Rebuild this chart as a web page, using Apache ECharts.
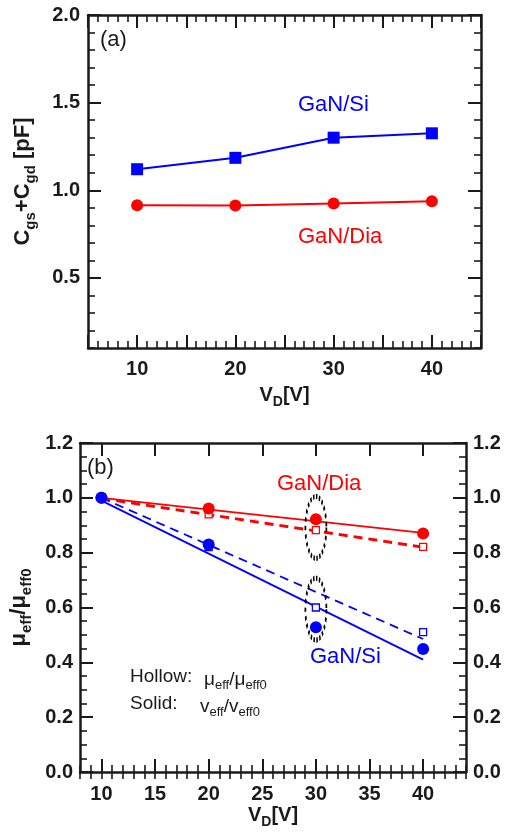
<!DOCTYPE html>
<html><head><meta charset="utf-8">
<script src="https://cdn.jsdelivr.net/npm/echarts@6/dist/echarts.min.js"></script>
<style>html,body{margin:0;padding:0;background:#fff}#c{width:510px;height:833px}</style>
</head><body><div id="c"></div>
<script>
// ---- Panel (a) data ----
const vdA = [10, 20, 30, 40];
const capSi = [1.12, 1.185, 1.30, 1.325];
const capDia = [0.915, 0.913, 0.924, 0.937];
const xLabelsA = [10, 20, 30, 40];
const yLabelsA = [0.5, 1.0, 1.5, 2.0];

// ---- Panel (b) data ----
const vdB = [10, 20, 30, 40];
const diaSolid = [1.0, 0.961, 0.922, 0.870];
const diaHollow = [1.0, 0.94, 0.882, 0.821];
const siSolid = [1.0, 0.83, 0.528, 0.449];
const siHollow = [1.0, 0.82, 0.60, 0.51];
const fitX = [10, 40];
const diaSolidFit = [1.0, 0.872];
const diaHollowFit = [0.998, 0.82];
const siSolidFit = [0.99, 0.41];
const siHollowFit = [1.0, 0.485];
const ellipseX = [30, 30];
const ellipseY = [0.892, 0.594];
const xLabelsB = [10, 15, 20, 25, 30, 35, 40];

const FONT = 'Liberation Sans, Arial, sans-serif';
const BLUE = '#0000ff', RED = '#ff0000', INK = '#1a1a1a';
const pairs = (xs, ys) => xs.map((x, i) => [x, ys[i]]);

const tickLabel = { fontFamily: FONT, fontSize: 20, fontWeight: 'bold', color: INK };
const rich = {
  b: { fontFamily: FONT, fontSize: 20, fontWeight: 'bold', color: INK, verticalAlign: 'top', lineHeight: 22 },
  s: { fontFamily: FONT, fontSize: 14, fontWeight: 'bold', color: INK, verticalAlign: 'top', lineHeight: 14, padding: [10, 0, 0, 0] }
};
const richY = {
  b: { fontFamily: FONT, fontSize: 22, fontWeight: 'bold', color: INK, verticalAlign: 'top', lineHeight: 24 },
  s: { fontFamily: FONT, fontSize: 15, fontWeight: 'bold', color: INK, verticalAlign: 'top', lineHeight: 15, padding: [11, 0, 0, 0] }
};
const boxLine = { show: true, onZero: false, lineStyle: { color: INK, width: 2.5 } };
const noLine = { show: false };

function majorAxis(o) {
  return Object.assign({
    type: 'value', splitLine: { show: false },
    axisLine: boxLine,
    axisTick: { show: true, inside: true, length: 13, lineStyle: { color: INK, width: 2 } },
    axisLabel: { show: false },
    minorTick: { show: false }
  }, o);
}
function minorAxis(o) {
  return Object.assign({
    type: 'value', splitLine: { show: false },
    axisLine: noLine,
    axisTick: { show: true, inside: true, length: 7, lineStyle: { color: INK, width: 1.6 } },
    axisLabel: { show: false },
    minorTick: { show: false }
  }, o);
}

const xAxes = [
  // grid 0 (a)
  majorAxis({ gridIndex: 0, position: 'bottom', min: 5, max: 45, interval: 5,
    minorTick: { show: true, splitNumber: 5, length: 7, lineStyle: { color: INK, width: 1.6 } },
    axisLabel: Object.assign({ show: true, margin: 11, customValues: xLabelsA,
      formatter: v => xLabelsA.includes(v) ? String(v) : '' }, tickLabel),
    name: '{b|V}{s|D}{b|[V]}', nameLocation: 'middle', nameGap: 37, nameTextStyle: { rich } }),
  majorAxis({ gridIndex: 0, position: 'top', min: 5, max: 45, interval: 5,
    minorTick: { show: true, splitNumber: 5, length: 7, lineStyle: { color: INK, width: 1.6 } } }),
  // grid 1 (b)
  majorAxis({ gridIndex: 1, position: 'bottom', min: 8, max: 44, interval: 1,
    axisTick: { show: true, inside: true, length: 13, customValues: xLabelsB, lineStyle: { color: INK, width: 2 } },
    axisLabel: Object.assign({ show: true, margin: 12, customValues: xLabelsB,
      formatter: v => xLabelsB.includes(v) ? String(v) : '' }, tickLabel),
    name: '{b|V}{s|D}{b|[V]}', nameLocation: 'middle', nameGap: 33, nameTextStyle: { rich } }),
  minorAxis({ gridIndex: 1, position: 'bottom', min: 8, max: 44, interval: 1 }),
  majorAxis({ gridIndex: 1, position: 'top', min: 8, max: 44, interval: 1,
    axisTick: { show: true, inside: true, length: 13, customValues: xLabelsB, lineStyle: { color: INK, width: 2 } } }),
  minorAxis({ gridIndex: 1, position: 'top', min: 8, max: 44, interval: 1 })
];

const yAxes = [
  // grid 0 (a)
  majorAxis({ gridIndex: 0, position: 'left', min: 0.1, max: 2.0, interval: 0.1,
    axisTick: { show: true, inside: true, length: 13, customValues: yLabelsA, lineStyle: { color: INK, width: 2 } },
    axisLabel: Object.assign({ show: true, margin: 8, customValues: yLabelsA,
      formatter: v => yLabelsA.some(t => Math.abs(t - v) < 1e-6) ? v.toFixed(1) : '' }, tickLabel),
    name: '{b|C}{s|gs}{b|+C}{s|gd}{b| [pF]}', nameLocation: 'middle', nameRotate: 90, nameGap: 52,
    nameTextStyle: { rich: richY } }),
  minorAxis({ gridIndex: 0, position: 'left', min: 0.1, max: 2.0, interval: 0.1 }),
  majorAxis({ gridIndex: 0, position: 'right', min: 0.1, max: 2.0, interval: 0.1,
    axisTick: { show: true, inside: true, length: 13, customValues: yLabelsA, lineStyle: { color: INK, width: 2 } } }),
  minorAxis({ gridIndex: 0, position: 'right', min: 0.1, max: 2.0, interval: 0.1 }),
  // grid 1 (b)
  majorAxis({ gridIndex: 1, position: 'left', min: 0, max: 1.2, interval: 0.2,
    minorTick: { show: true, splitNumber: 4, length: 7, lineStyle: { color: INK, width: 1.6 } },
    axisLabel: Object.assign({ show: true, margin: 7, formatter: v => v.toFixed(1) }, tickLabel),
    name: '{b|μ}{s|eff}{b|/μ}{s|eff0}', nameLocation: 'middle', nameRotate: 90, nameGap: 41,
    nameTextStyle: { rich: richY } }),
  majorAxis({ gridIndex: 1, position: 'right', min: 0, max: 1.2, interval: 0.2,
    minorTick: { show: true, splitNumber: 4, length: 7, lineStyle: { color: INK, width: 1.6 } },
    axisLabel: Object.assign({ show: true, margin: 7, formatter: v => v.toFixed(1) }, tickLabel) })
];

const B = { xAxisIndex: 2, yAxisIndex: 4 };
const fitLine = (ys, color, width, type) => Object.assign({
  type: 'line', data: pairs(fitX, ys), showSymbol: false, symbol: 'none',
  lineStyle: { color, width, type, opacity: 1 }, silent: true, z: 2
}, B);

const series = [
  { type: 'line', xAxisIndex: 0, yAxisIndex: 0, data: pairs(vdA, capSi), symbol: 'rect', symbolSize: 12,
    itemStyle: { color: BLUE, opacity: 1 }, lineStyle: { color: BLUE, width: 2 } },
  { type: 'line', xAxisIndex: 0, yAxisIndex: 0, data: pairs(vdA, capDia), symbol: 'circle', symbolSize: 12,
    itemStyle: { color: RED, opacity: 1 }, lineStyle: { color: RED, width: 2 } },
  fitLine(diaSolidFit, RED, 1.8, 'solid'),
  fitLine(diaHollowFit, RED, 3, [9, 6]),
  fitLine(siSolidFit, BLUE, 1.8, 'solid'),
  fitLine(siHollowFit, BLUE, 1.8, [9, 6]),
  Object.assign({ type: 'scatter', data: pairs(vdB, diaHollow), symbol: 'rect', symbolSize: 7,
    itemStyle: { color: '#fff', borderColor: RED, borderWidth: 1.3, opacity: 1 }, z: 3 }, B),
  Object.assign({ type: 'scatter', data: pairs(vdB, siHollow), symbol: 'rect', symbolSize: 7,
    itemStyle: { color: '#fff', borderColor: BLUE, borderWidth: 1.3, opacity: 1 }, z: 3 }, B),
  Object.assign({ type: 'scatter', data: pairs(vdB, diaSolid), symbol: 'circle', symbolSize: 12,
    itemStyle: { color: RED, opacity: 1 }, z: 4 }, B),
  Object.assign({ type: 'scatter', data: pairs(vdB, siSolid), symbol: 'circle', symbolSize: 12,
    itemStyle: { color: BLUE, opacity: 1 }, z: 4 }, B),
  Object.assign({ type: 'scatter', data: pairs(ellipseX, ellipseY), symbol: 'circle', symbolSize: [21, 62],
    itemStyle: { color: 'rgba(0,0,0,0)', borderColor: '#000', borderWidth: 3, borderType: [2.5, 2.5], opacity: 1 }, z: 5 }, B)
];

const txt = (x, y, text, fill, size, extra) => ({
  type: 'text', x, y, silent: true,
  style: Object.assign({ text, fill, fontFamily: FONT, fontSize: size, verticalAlign: 'middle', align: 'left' }, extra || {})
});
const subRich = {
  m: { fontFamily: FONT, fontSize: 19, color: '#1a1a1a', verticalAlign: 'top', lineHeight: 20 },
  s: { fontFamily: FONT, fontSize: 13, color: '#1a1a1a', verticalAlign: 'top', lineHeight: 13, padding: [9, 0, 0, 0] }
};

const graphic = [
  txt(100, 40, '(a)', INK, 22),
  txt(298, 105, 'GaN/Si', BLUE, 22),
  txt(298, 237, 'GaN/Dia', RED, 22),
  txt(87, 468, '(b)', INK, 22),
  txt(277, 484, 'GaN/Dia', RED, 22),
  txt(310, 657, 'GaN/Si', BLUE, 22),
  txt(130, 677, 'Hollow:', INK, 19),
  txt(204, 680, '{m|μ}{s|eff}{m|/μ}{s|eff0}', INK, 19, { rich: subRich }),
  txt(130, 704, 'Solid:', INK, 19),
  txt(200, 707, '{m|v}{s|eff}{m|/v}{s|eff0}', INK, 19, { rich: subRich })
];

const chart = echarts.init(document.getElementById('c'), null, { renderer: 'canvas' });
chart.setOption({
  animation: false,
  backgroundColor: '#fff',
  grid: [
    { left: 88, top: 15, width: 393, height: 333, containLabel: false },
    { left: 80, top: 443, width: 386, height: 329, containLabel: false }
  ],
  xAxis: xAxes,
  yAxis: yAxes,
  series,
  graphic
});
</script></body></html>
